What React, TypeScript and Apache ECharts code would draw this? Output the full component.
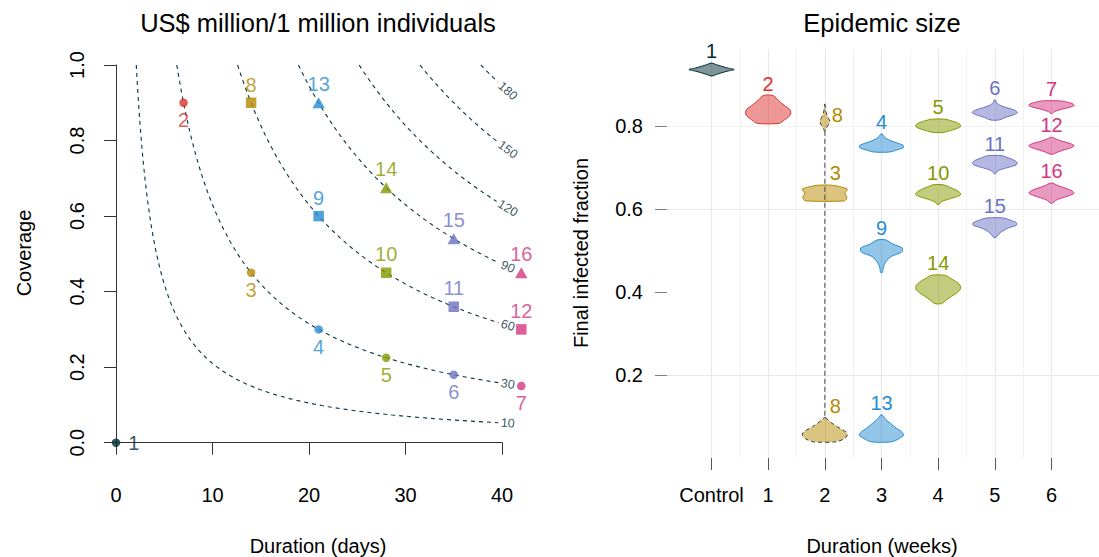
import React, { useEffect, useRef } from "react";
import * as echarts from "echarts";

// ---------------- Left panel data ----------------
const scenarioIds = [1, 2, 3, 4, 5, 6, 7, 8, 9, 10, 11, 12, 13, 14, 15, 16];
const durationDays = [0, 7, 14, 21, 28, 35, 42, 14, 21, 28, 35, 42, 21, 28, 35, 42];
const coverageLevels = [0, 0.9, 0.45, 0.3, 0.225, 0.18, 0.15, 0.9, 0.6, 0.45, 0.36, 0.3, 0.9, 0.675, 0.54, 0.45];
const markerKinds = [
  "circle", "circle", "circle", "circle", "circle", "circle", "circle",
  "square", "square", "square", "square", "square",
  "triangle", "triangle", "triangle", "triangle",
];
const colourKeys = [
  "base03", "red", "yellow", "blue", "green", "violet", "magenta",
  "yellow", "blue", "green", "violet", "magenta",
  "blue", "green", "violet", "magenta",
];

// cost isolines (US$ million per 1 million individuals): cost = k * days * coverage
const contourLevels = [10, 30, 60, 90, 120, 150, 180];
const costPerCoverageDay = 30 / 6.3;
const contourMaxDuration = 42;
const contourLabelDuration = 40.6;

const daysTicks = [0, 10, 20, 30, 40];
const coverageTicks = [0, 0.2, 0.4, 0.6, 0.8, 1.0];

// ---------------- Right panel data ----------------
const weekCategories = ["Control", "1", "2", "3", "4", "5", "6"];
const fractionTicks = [0.2, 0.4, 0.6, 0.8];
const violinScenario = [1, 2, 3, 4, 5, 6, 7, 9, 10, 11, 12, 13, 14, 15, 16, 8, 8];
const violinWeek = [0, 1, 2, 3, 4, 5, 6, 3, 4, 5, 6, 3, 4, 5, 6, 2, 2];
const violinTop = [0.951, 0.873, 0.657, 0.78, 0.816, 0.862, 0.86, 0.525, 0.658, 0.728, 0.772, 0.104, 0.44, 0.578, 0.662, 0.852, 0.097];
const violinBottom = [0.92, 0.806, 0.619, 0.737, 0.784, 0.814, 0.83, 0.447, 0.611, 0.685, 0.732, 0.039, 0.372, 0.531, 0.614, 0.788, 0.039];
// relative half-width of each violin, top -> bottom
const violinProfile = [
  [0.03, 0.22, 0.45, 0.7, 1.0, 0.7, 0.45, 0.22, 0.03],
  [0.22, 0.38, 0.55, 0.75, 0.95, 1.0, 0.92, 0.72, 0.48],
  [0.3, 0.75, 1.0, 0.95, 0.88, 0.92, 0.97, 0.95, 0.85],
  [0.04, 0.1, 0.22, 0.42, 0.7, 0.95, 0.97, 0.7, 0.35],
  [0.3, 0.58, 0.8, 0.95, 1.0, 0.93, 0.75, 0.5, 0.22],
  [0.03, 0.07, 0.2, 0.5, 0.85, 1.0, 0.8, 0.45, 0.18],
  [0.4, 0.75, 0.95, 1.0, 0.82, 0.55, 0.3, 0.12, 0.04],
  [0.2, 0.5, 0.92, 0.88, 0.45, 0.24, 0.13, 0.07, 0.04],
  [0.22, 0.5, 0.75, 0.93, 1.0, 0.78, 0.42, 0.14, 0.05],
  [0.32, 0.6, 0.85, 0.98, 0.95, 0.68, 0.32, 0.11, 0.04],
  [0.05, 0.25, 0.52, 0.85, 1.0, 0.85, 0.55, 0.28, 0.08],
  [0.03, 0.14, 0.3, 0.48, 0.66, 0.88, 0.98, 0.78, 0.45],
  [0.3, 0.58, 0.83, 0.98, 0.97, 0.82, 0.58, 0.36, 0.15],
  [0.36, 0.72, 0.96, 0.95, 0.62, 0.4, 0.24, 0.13, 0.05],
  [0.06, 0.28, 0.6, 0.88, 1.0, 0.78, 0.44, 0.17, 0.05],
  [0.01, 0.02, 0.04, 0.08, 0.14, 0.22, 0.18, 0.08, 0.02],
  [0.03, 0.18, 0.35, 0.55, 0.78, 0.97, 0.98, 0.85, 0.5],
];
const bimodalScenario = 8;

// ---------------- styling ----------------
const palette: Record<string, string> = {
  base03: "#002b36",
  red: "#dc322f",
  yellow: "#b58900",
  blue: "#268bd2",
  green: "#859900",
  violet: "#6c71c4",
  magenta: "#d33682",
};
const FONT = "'Liberation Sans', Arial, Helvetica, sans-serif";

// layout
const LEFT = { left: 116, top: 65, width: 386, height: 377.7 };
const RIGHT_BG = { left: 667, top: 42.8, width: 432, height: 415.2 };
const RIGHT = { left: 711.5, top: 49, width: 340, height: 409 };
const RIGHT_YMAX = 0.985;

function buildOption() {
  const pxPerDay = LEFT.width / 40;
  const pxPerCov = LEFT.height / 1;

  // contour lines
  const contourSeries: any[] = [];
  const contourLabels: any[] = [];
  contourLevels.forEach((lvl) => {
    const P = lvl / costPerCoverageDay;
    const dTop = P;
    const dl = contourLabelDuration;
    const slopePx = (P / (dl * dl)) * (pxPerCov / pxPerDay);
    const ang = Math.atan(slopePx);
    const halfW = (String(lvl).length * 7) / 2 + 2.5;
    const gapA = dl - (halfW * Math.cos(ang)) / pxPerDay;
    const gapB = dl + (halfW * Math.cos(ang)) / pxPerDay;
    const pts: any[] = [];
    const n = 90;
    for (let i = 0; i <= n; i++) {
      const d = dTop * Math.pow(gapA / dTop, i / n);
      pts.push([d, P / d]);
    }
    pts.push([null, null]);
    if (gapB < contourMaxDuration) {
      pts.push([gapB, P / gapB]);
      pts.push([contourMaxDuration, P / contourMaxDuration]);
    }
    contourSeries.push({
      type: "line",
      xAxisIndex: 0,
      yAxisIndex: 0,
      data: pts,
      showSymbol: false,
      symbol: "none",
      connectNulls: false,
      clip: false,
      silent: true,
      lineStyle: { color: "#0a3240", width: 1.1, type: [4, 4] },
      z: 2,
    });
    contourLabels.push({
      value: [dl, P / dl],
      label: { rotate: (-ang * 180) / Math.PI },
      name: String(lvl),
    });
  });

  const labelSeries = {
    type: "scatter",
    xAxisIndex: 0,
    yAxisIndex: 0,
    symbolSize: 0,
    clip: false,
    silent: true,
    data: contourLabels,
    label: {
      show: true,
      position: "inside",
      formatter: (p: any) => p.name,
      fontSize: 12.5,
      fontFamily: FONT,
      color: "#002b36",
    },
    z: 3,
  };

  const pointData = scenarioIds.map((id, i) => {
    const kind = markerKinds[i];
    const col = palette[colourKeys[i]];
    const symbol = kind === "circle" ? "circle" : kind === "square" ? "rect" : "triangle";
    const size = kind === "circle" ? 8.5 : kind === "square" ? 10.5 : [12.5, 11];
    const pos = kind === "circle" ? (id === 1 ? "right" : "bottom") : "top";
    return {
      value: [durationDays[i], coverageLevels[i]],
      symbol,
      symbolSize: size,
      itemStyle: { color: col },
      label: {
        show: true,
        position: pos,
        distance: id === 1 ? 8 : 3,
        formatter: String(id),
        color: col,
        fontSize: 20,
        fontFamily: FONT,
      },
    };
  });

  const pointSeries = {
    type: "scatter",
    xAxisIndex: 0,
    yAxisIndex: 0,
    clip: false,
    data: pointData,
    z: 5,
  };

  // violins
  const violinData = violinScenario.map((s, i) => [violinWeek[i], violinTop[i], violinBottom[i], i]);
  const violinSeries = {
    type: "custom",
    xAxisIndex: 2,
    yAxisIndex: 2,
    clip: false,
    data: violinData,
    renderItem: (params: any, api: any) => {
      const i = params.dataIndex;
      const week = violinWeek[i];
      const topPt = api.coord([week, violinTop[i]]);
      const botPt = api.coord([week, violinBottom[i]]);
      const hw = api.size([0.4, 0])[0];
      const prof = violinProfile[i];
      const n = prof.length;
      const right: number[][] = [];
      const left: number[][] = [];
      for (let k = 0; k < n; k++) {
        const y = topPt[1] + ((botPt[1] - topPt[1]) * k) / (n - 1);
        right.push([topPt[0] + prof[k] * hw, y]);
        left.unshift([topPt[0] - prof[k] * hw, y]);
      }
      const sid = violinScenario[i];
      const col = palette[colourKeys[sid - 1]];
      const bimodal = sid === bimodalScenario;
      const children: any[] = [];
      children.push({
        type: "polygon",
        shape: { points: right.concat(left), smooth: 0.3 },
        style: {
          fill: echarts.color.modifyAlpha(col, 0.5),
          stroke: bimodal ? "#3a3a3a" : col,
          lineWidth: 1,
          lineDash: bimodal ? [4, 3] : null,
        },
      });
      const pieces = violinScenario.map((v, j) => (v === sid ? j : -1)).filter((j) => j >= 0);
      let isUpperPiece = false;
      if (pieces.length > 1) {
        const lowerIdx = pieces.reduce((a, b) => (violinTop[a] < violinTop[b] ? a : b));
        isUpperPiece = i !== lowerIdx;
        if (isUpperPiece) {
          const lowTop = api.coord([week, violinTop[lowerIdx]]);
          children.push({
            type: "line",
            shape: { x1: topPt[0], y1: botPt[1], x2: topPt[0], y2: lowTop[1] },
            style: { stroke: "#4a4a4a", lineWidth: 1, lineDash: [5, 3] },
          });
        }
      }
      let lx = topPt[0];
      let ly = topPt[1] - 12;
      let align = "center";
      if (isUpperPiece) {
        lx = topPt[0] + 7;
        ly = topPt[1] + 0.4 * (botPt[1] - topPt[1]);
        align = "left";
      } else if (week === 2) {
        lx = topPt[0] + 5;
        align = "left";
      }
      children.push({
        type: "text",
        style: {
          text: String(sid),
          x: lx,
          y: ly,
          align,
          verticalAlign: "middle",
          fill: col,
          fontSize: 20,
          fontFamily: FONT,
        },
      });
      return { type: "group", children };
    },
    z: 4,
  };

  const majorC = "#e8e8e8";
  const minorC = "#f2f2f2";

  return {
    animation: false,
    backgroundColor: "#ffffff",
    textStyle: { fontFamily: FONT },
    grid: [
      { ...LEFT, containLabel: false },
      { ...RIGHT_BG, containLabel: false },
      { ...RIGHT, containLabel: false },
    ],
    xAxis: [
      {
        gridIndex: 0,
        type: "value",
        min: daysTicks[0],
        max: daysTicks[daysTicks.length - 1],
        interval: 10,
        offset: 15,
        axisLine: { show: true, lineStyle: { color: "#333", width: 1 } },
        axisTick: { show: true, length: 12, lineStyle: { color: "#333" } },
        axisLabel: { margin: 27, fontSize: 20, color: "#000", fontFamily: FONT },
        splitLine: { show: false },
      },
      { gridIndex: 1, type: "value", min: 0, max: 1, show: false },
      {
        gridIndex: 2,
        type: "value",
        min: 0,
        max: weekCategories.length - 1,
        interval: 1,
        axisLine: { show: false },
        axisTick: { show: true, length: 12, lineStyle: { color: "#555" } },
        axisLabel: {
          margin: 27,
          fontSize: 20,
          color: "#000",
          fontFamily: FONT,
          formatter: (v: number) => weekCategories[Math.round(v)],
        },
        splitLine: { show: true, lineStyle: { color: majorC, width: 1.2 } },
        minorTick: { show: false, splitNumber: 2 },
        minorSplitLine: { show: true, lineStyle: { color: minorC, width: 1 } },
      },
    ],
    yAxis: [
      {
        gridIndex: 0,
        type: "value",
        min: coverageTicks[0],
        max: coverageTicks[coverageTicks.length - 1],
        interval: 0.2,
        offset: 5,
        axisLine: { show: true, lineStyle: { color: "#333", width: 1 } },
        axisTick: { show: true, length: 12, lineStyle: { color: "#333" } },
        axisLabel: {
          rotate: 90,
          margin: 24,
          fontSize: 20,
          color: "#000",
          fontFamily: FONT,
          formatter: (v: number) => v.toFixed(1),
        },
        splitLine: { show: false },
      },
      {
        gridIndex: 1,
        type: "value",
        min: 0,
        max: 1,
        interval: 0.1,
        axisLine: { show: false },
        axisTick: { show: true, length: 12, customValues: fractionTicks, lineStyle: { color: "#808080" } },
        axisLabel: {
          customValues: fractionTicks,
          margin: 24,
          fontSize: 20,
          color: "#000",
          fontFamily: FONT,
          formatter: (v: number) => v.toFixed(1),
        },
        splitLine: {
          show: true,
          lineStyle: {
            width: 1.2,
            color: [majorC, "rgba(0,0,0,0)", majorC, minorC, majorC, minorC, majorC, minorC, majorC, "rgba(0,0,0,0)", "rgba(0,0,0,0)"],
          },
        },
      },
      { gridIndex: 2, type: "value", min: 0, max: RIGHT_YMAX, show: false },
    ],
    graphic: [
      {
        type: "text",
        x: 318,
        y: 23,
        style: { text: "US$ million/1 million individuals", fontSize: 25.5, fontFamily: FONT, fill: "#000", align: "center", verticalAlign: "middle" },
      },
      {
        type: "text",
        x: 882,
        y: 23,
        style: { text: "Epidemic size", fontSize: 25.5, fontFamily: FONT, fill: "#000", align: "center", verticalAlign: "middle" },
      },
      {
        type: "text",
        x: 318,
        y: 546,
        style: { text: "Duration (days)", fontSize: 20, fontFamily: FONT, fill: "#000", align: "center", verticalAlign: "middle" },
      },
      {
        type: "text",
        x: 882,
        y: 546,
        style: { text: "Duration (weeks)", fontSize: 20, fontFamily: FONT, fill: "#000", align: "center", verticalAlign: "middle" },
      },
      {
        type: "text",
        x: 24,
        y: 253,
        rotation: Math.PI / 2,
        style: { text: "Coverage", fontSize: 20, fontFamily: FONT, fill: "#000", align: "center", verticalAlign: "middle" },
      },
      {
        type: "text",
        x: 581,
        y: 253,
        rotation: Math.PI / 2,
        style: { text: "Final infected fraction", fontSize: 20, fontFamily: FONT, fill: "#000", align: "center", verticalAlign: "middle" },
      },
    ],
    series: [...contourSeries, labelSeries, pointSeries, violinSeries],
  };
}

export default function App() {
  const ref = useRef<HTMLDivElement>(null);
  useEffect(() => {
    if (!ref.current) return;
    const chart = echarts.init(ref.current, null, { renderer: "svg" });
    chart.setOption(buildOption() as any);
    return () => chart.dispose();
  }, []);
  return (
    <div
      ref={ref}
      style={{ position: "fixed", left: 0, top: 0, width: 1099, height: 557, background: "#fff" }}
    />
  );
}
